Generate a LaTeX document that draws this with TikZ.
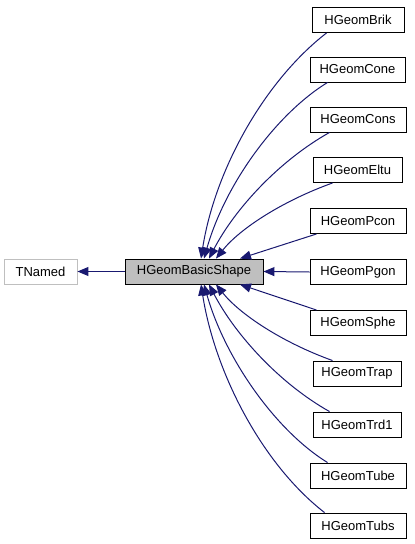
\documentclass[tikz,border=0pt]{standalone}
\usepackage{fontspec}
\setmainfont{Liberation Sans}
\usetikzlibrary{arrows.meta}
\definecolor{edgeblue}{HTML}{191970}
\definecolor{boxgray}{HTML}{BFBFBF}
\tikzset{
  cls/.style={draw=black, line width=0.9pt, minimum height=25pt, inner sep=0pt, font=\fontsize{13}{15}\selectfont},
  ext/.style={cls, draw=boxgray},
  cur/.style={cls, fill=boxgray},
  edge/.style={draw=edgeblue, line width=1pt, -{Triangle[length=11pt,width=9pt]}}
}
\begin{document}
\begin{tikzpicture}[x=1pt,y=-1pt]
\useasboundingbox (0,0) rectangle (415,544);
\node[ext, minimum width=73pt] (tnamed) at (40.5,271.5) {TNamed};
\node[cur, minimum width=138pt] (base) at (194,271.5) {HGeomBasicShape};
\node[cls, minimum width=92pt] (brik) at (358,20) {HGeomBrik};
\node[cls, minimum width=95pt] (cone) at (357.5,69.5) {HGeomCone};
\node[cls, minimum width=96pt] (cons) at (358,119.5) {HGeomCons};
\node[cls, minimum width=89pt] (eltu) at (357.5,170) {HGeomEltu};
\node[cls, minimum width=96pt] (pcon) at (358,221) {HGeomPcon};
\node[cls, minimum width=96pt] (pgon) at (358,272) {HGeomPgon};
\node[cls, minimum width=96pt] (sphe) at (358,323) {HGeomSphe};
\node[cls, minimum width=88pt] (trap) at (357,373.5) {HGeomTrap};
\node[cls, minimum width=88pt] (trd) at (357,424.5) {HGeomTrd1};
\node[cls, minimum width=96pt] (tube) at (358,475.5) {HGeomTube};
\node[cls, minimum width=96pt] (tubs) at (358,525.5) {HGeomTubs};

\draw[edge] (base.west) -- (tnamed.east);
\draw[edge] ([xshift=15pt]brik.south west) .. controls +(-62,48) and +(14,-89) .. ([xshift=7pt]base.north);
\draw[edge] ([xshift=18pt]cone.south west) .. controls +(-52,32) and +(21,-74) .. ([xshift=10pt]base.north);
\draw[edge] ([xshift=20pt]cons.south west) .. controls +(-50,28) and +(26,-50) .. ([xshift=15pt]base.north);
\draw[edge] ([xshift=20pt]eltu.south west) .. controls +(-50,18) and +(24,-30) .. ([xshift=22pt]base.north);
\draw[edge] ([xshift=7pt]pcon.south west) -- ([xshift=46pt]base.north);
\draw[edge] (pgon.west) -- (base.east);
\draw[edge] ([xshift=7pt]sphe.north west) -- ([xshift=46pt]base.south);
\draw[edge] ([xshift=20pt]trap.north west) .. controls +(-50,-18) and +(24,30) .. ([xshift=22pt]base.south);
\draw[edge] ([xshift=17pt]trd.north west) .. controls +(-50,-28) and +(26,50) .. ([xshift=15pt]base.south);
\draw[edge] ([xshift=18pt]tube.north west) .. controls +(-52,-32) and +(21,74) .. ([xshift=10pt]base.south);
\draw[edge] ([xshift=15pt]tubs.north west) .. controls +(-62,-48) and +(14,89) .. ([xshift=7pt]base.south);
\end{tikzpicture}
\end{document}
